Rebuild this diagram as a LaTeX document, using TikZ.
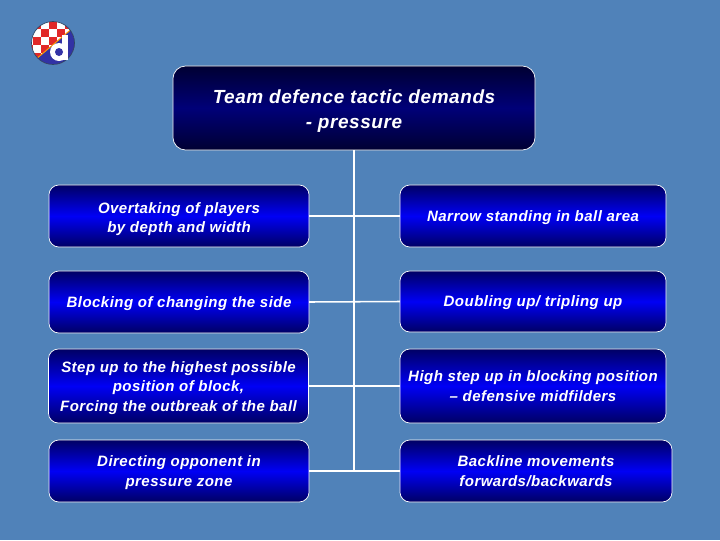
\documentclass[tikz,border=0pt]{standalone}
\usepackage{fontspec}
\setmainfont{Liberation Sans}
\newfontfamily\boxfont[LetterSpace=3]{Liberation Sans}
\newcommand{\dropline}[1]{\rule{0pt}{#1}}
\definecolor{slide}{RGB}{80,130,185}
\definecolor{boxblue}{RGB}{0,0,245}
\definecolor{boxdark}{RGB}{0,0,100}
\definecolor{headdark}{RGB}{0,0,50}
\definecolor{headmid}{RGB}{0,0,120}
\definecolor{crestred}{RGB}{225,40,40}
\definecolor{crestblue}{RGB}{50,50,165}
\begin{document}
\begin{tikzpicture}[
  x=0.025cm, y=-0.025cm,
  font=\boxfont\bfseries\itshape\fontsize{10.7}{14}\selectfont,
  head/.style={draw=white, line width=0.5pt, rounded corners=9pt, top color=headdark, bottom color=headdark,
               middle color=headmid, align=center, minimum width=9.05cm, minimum height=2.1cm, text=white,
               outer sep=0pt, font=\boxfont\bfseries\itshape\fontsize{13.5}{17.8}\selectfont},
  br/.style={draw=white, line width=0.5pt, rounded corners=7pt, top color=boxdark, bottom color=boxdark,
             middle color=boxblue, align=center, minimum width=6.5cm, outer sep=0pt, inner sep=0pt, text=white},
  edge/.style={draw=white, line width=1.1pt}
]
\useasboundingbox (0,0) rectangle (720,540);
\fill[slide] (0,0) rectangle (720,540);
% crest
\begin{scope}
\clip (53,43) circle (21.5);
\fill[white] (31,21) rectangle (75,65);
\foreach \i in {0,...,6}{
  \foreach \j in {0,...,6}{
    \pgfmathparse{int(mod(\i+\j,2))}
    \ifnum\pgfmathresult=1 \fill[crestred] (25+\i*8,21+\j*8) rectangle ++(8,8); \fi
  }
}
\fill[crestblue] (35,60) -- (74,27) -- (78,70) -- (35,70) -- cycle;
\draw[orange!80!yellow, line width=0.7pt] (35,60) -- (74,27);
\end{scope}
\draw[black!45!slide, line width=0.5pt] (53,43) circle (21.5);
\fill[white] (62,35) rectangle (68,60);
\fill[white] (59,52) circle (9);
\fill[crestblue] (59,52) circle (4);
% boxes
\node[head] (demands) at (354,108) {\dropline{14.7pt}Team defence tactic demands\\- pressure};
\node[br, minimum height=1.55cm] (overtaking) at (179,216) {\dropline{12pt}Overtaking of players\\by depth and width};
\node[br, minimum height=1.55cm] (blocking) at (179,302) {\dropline{9.6pt}Blocking of changing the side};
\node[br, minimum height=1.85cm] (stepup) at (178.5,386) {\dropline{10.5pt}Step up to the highest possible\\position of block,\\Forcing the outbreak of the ball};
\node[br, minimum height=1.55cm] (directing) at (179,471) {\dropline{10pt}Directing opponent in\\pressure zone};
\node[br, minimum height=1.55cm, minimum width=6.65cm] (narrow) at (533,216) {\dropline{9.6pt}Narrow standing in ball area};
\node[br, minimum height=1.525cm, minimum width=6.65cm] (doubling) at (533,301.5) {\dropline{9.6pt}Doubling up/ tripling up};
\node[br, minimum height=1.85cm, minimum width=6.65cm] (highstep) at (533,386) {High step up in blocking position\\– defensive midfilders};
\node[br, minimum height=1.55cm, minimum width=6.8cm] (backline) at (536,471) {Backline movements\\forwards/backwards};
% connectors
\coordinate (trunkend) at (354,470);
\draw[edge] (demands.south) -- (trunkend);
\draw[edge] (overtaking.east) -- (narrow.west);
\draw[edge] (blocking.east) -- (doubling.west);
\draw[edge] (stepup.east) -- (highstep.west);
\draw[edge] (directing.east) -- (backline.west);
\end{tikzpicture}
\end{document}
